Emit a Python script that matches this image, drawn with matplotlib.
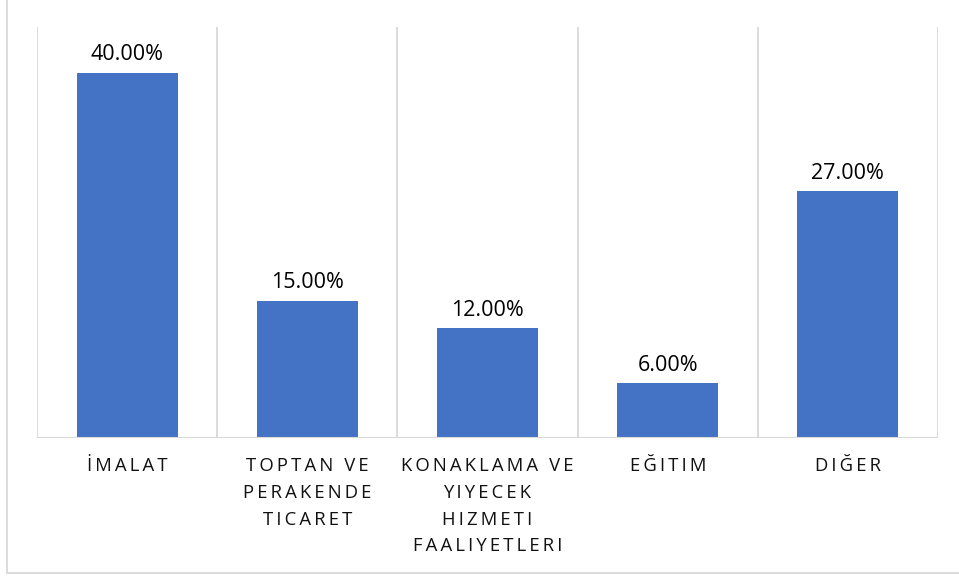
import matplotlib
matplotlib.use('Agg')
import matplotlib.pyplot as plt
from matplotlib.lines import Line2D

# Données du graphique
categories = ['İMALAT', 'TOPTAN VE\nPERAKENDE\nTICARET', 'KONAKLAMA VE\nYIYECEK\nHIZMETI\nFAALIYETLERI',
              'EĞITIM', 'DIĞER']
valeurs = [40.0, 15.0, 12.0, 6.0, 27.0]

plt.rcParams['font.family'] = ['Open Sans', 'DejaVu Sans']

W, H = 959, 578
fig = plt.figure(figsize=(W / 100, H / 100), dpi=100)
ax = fig.add_axes([37 / W, (H - 438) / H, (938 - 37) / W, (438 - 27) / H])

x = list(range(len(categories)))
bars = ax.bar(x, valeurs, width=0.56, color='#4472C4', zorder=3)

for b, v in zip(bars, valeurs):
    ax.annotate(f'{v:.2f}%', (b.get_x() + b.get_width() / 2, v), xytext=(0, 5.5),
                textcoords='offset points', ha='center', va='bottom', fontsize=15.5, color='#000000')

ax.set_xlim(-0.5, len(categories) - 0.5)
ax.set_ylim(0, 45)

# lignes verticales entre catégories
for i in range(len(categories) + 1):
    ax.axvline(i - 0.5, color='#D9D9D9', lw=1.3, zorder=1)
ax.axhline(0, color='#D9D9D9', lw=1.5, zorder=4)

for s in ax.spines.values():
    s.set_visible(False)
ax.set_yticks([])
ax.set_xticks(x)
# espacement des lettres
def espacer(txt):
    return '\n'.join('\u2009'.join(ligne) for ligne in txt.split('\n'))
ax.set_xticklabels([espacer(c) for c in categories], fontsize=13.3, linespacing=1.62, color='#111111')
ax.tick_params(axis='x', length=0, pad=14)

# cadre extérieur
yb = (H - 573) / H
fig.add_artist(Line2D([7 / W, 7 / W], [yb, 1], color='#D9D9D9', lw=1.3))
fig.add_artist(Line2D([7 / W, 1], [yb, yb], color='#D9D9D9', lw=1.3))

fig.savefig('out.png', dpi=100)
